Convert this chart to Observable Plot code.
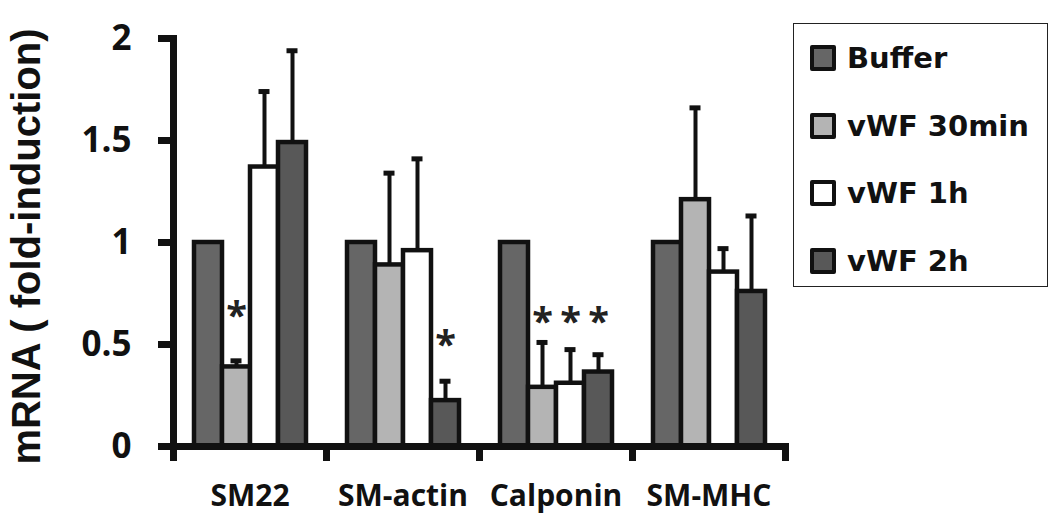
<!DOCTYPE html>
<html><head><meta charset="utf-8">
<script src="https://cdn.jsdelivr.net/npm/d3@7"></script>
<script src="https://cdn.jsdelivr.net/npm/@observablehq/plot@0.6"></script>
<style>
body{margin:0;background:#fff}
#wrap{position:relative;width:1050px;height:516px;overflow:hidden}
#legend{position:absolute;left:793px;top:23px;width:255px;height:264px;box-sizing:border-box;border:1.5px solid #222;font-family:"DejaVu Sans";font-weight:bold;font-size:29px;color:#111;background:#fff}
.row{position:absolute;left:16px;height:34px;display:flex;align-items:center;white-space:nowrap}
.sw{width:26px;height:26px;box-sizing:border-box;border:4px solid #111;border-radius:2px;margin-right:11px;flex:none}
</style></head>
<body><div id="wrap"></div>
<script>
const categories = ["SM22", "SM-actin", "Calponin", "SM-MHC"];
const series = ["Buffer", "vWF 30min", "vWF 1h", "vWF 2h"];
const colors = ["#666666", "#b4b4b4", "#ffffff", "#585858"];

const buffer = [1, 1, 1, 1];
const vwf30 = [0.39, 0.89, 0.29, 1.21];
const vwf1h = [1.37, 0.96, 0.31, 0.855];
const vwf2h = [1.49, 0.225, 0.365, 0.76];

const bufferErr = [null, null, null, null];
const vwf30Err = [0.03, 0.45, 0.22, 0.45];
const vwf1hErr = [0.37, 0.45, 0.165, 0.115];
const vwf2hErr = [0.45, 0.095, 0.085, 0.37];

const starCategory = ["SM22", "SM-actin", "Calponin", "Calponin", "Calponin"];
const starSeries = ["vWF 30min", "vWF 2h", "vWF 30min", "vWF 1h", "vWF 2h"];
const starHeight = [0.69, 0.545, 0.66, 0.66, 0.66];

const yTicks = [0, 0.5, 1, 1.5, 2];
const yTitle = "mRNA ( fold-induction)";

const seriesValues = [buffer, vwf30, vwf1h, vwf2h];
const seriesErr = [bufferErr, vwf30Err, vwf1hErr, vwf2hErr];
const table = [];
series.forEach((s, j) => categories.forEach((c, i) => {
  table.push({category: c, series: s, value: seriesValues[j][i], err: seriesErr[j][i]});
}));
const errRows = table.filter(d => d.err != null).map(d => ({...d, top: d.value + d.err}));
const stars = starCategory.map((c, i) => ({category: c, series: starSeries[i], y: starHeight[i]}));

const plot = Plot.plot({
  width: 1050, height: 516,
  marginLeft: 173, marginRight: 265, marginTop: 38, marginBottom: 70,
  style: {fontFamily: "Open Sans", color: "#111", background: "white"},
  fx: {domain: categories, padding: 0, label: null},
  x: {domain: series, paddingInner: 0, paddingOuter: 0.68, axis: null},
  y: {domain: [0, 2]},
  color: {domain: series, range: colors},
  marks: [
    Plot.barY(table, {fx: "category", x: "series", y: "value", fill: "series", stroke: "#111", strokeWidth: 4.5}),
    Plot.ruleX(errRows, {fx: "category", x: "series", y1: "value", y2: "top", stroke: "#111", strokeWidth: 4}),
    Plot.tickY(errRows, {fx: "category", x: "series", y: "top", stroke: "#111", strokeWidth: 5, insetLeft: 8.5, insetRight: 8.5}),
    Plot.text(stars, {fx: "category", x: "series", y: "y", text: () => "*", fontSize: 38, fontWeight: "bold", fontFamily: "Open Sans", fill: "#222", dy: 11}),
    Plot.ruleY([0], {stroke: "#111", strokeWidth: 7}),
    Plot.frame({anchor: "left", facetAnchor: "left", stroke: "#111", strokeWidth: 7}),
    Plot.frame({anchor: "left", insetTop: 408, insetBottom: -11, stroke: "#111", strokeWidth: 7}),
    Plot.frame({anchor: "right", insetTop: 408, insetBottom: -11, stroke: "#111", strokeWidth: 7}),
    Plot.axisY({ticks: yTicks, tickFormat: d => `${d}`, tickSize: 15, tickPadding: 27, strokeWidth: 7,
      fontSize: 35, fontWeight: "bold", fontFamily: "Open Sans", label: null}),
    Plot.text([{category: categories[0], t: yTitle}], {fx: "category", text: "t", frameAnchor: "left", rotate: -90,
      lineAnchor: "top", textAnchor: "middle", dx: -162, dy: 4, fontSize: 40, fontWeight: "bold", fontFamily: "Liberation Sans", fill: "#111"}),
    Plot.axisFx({anchor: "bottom", tickSize: 0, tickPadding: 38, fontSize: 30, fontWeight: "bold", fontFamily: "Open Sans", label: null})
  ]
});
const wrap = document.getElementById("wrap");
wrap.appendChild(plot);

const legend = document.createElement("div");
legend.id = "legend";
series.forEach((s, i) => {
  const row = document.createElement("div");
  row.className = "row";
  row.style.top = (35.5 + i * 67.5 - 17 - 1.5) + "px";
  const sw = document.createElement("span");
  sw.className = "sw";
  sw.style.background = colors[i];
  const label = document.createElement("span");
  label.textContent = s;
  row.appendChild(sw);
  row.appendChild(label);
  legend.appendChild(row);
});
wrap.appendChild(legend);
</script>
</body></html>
